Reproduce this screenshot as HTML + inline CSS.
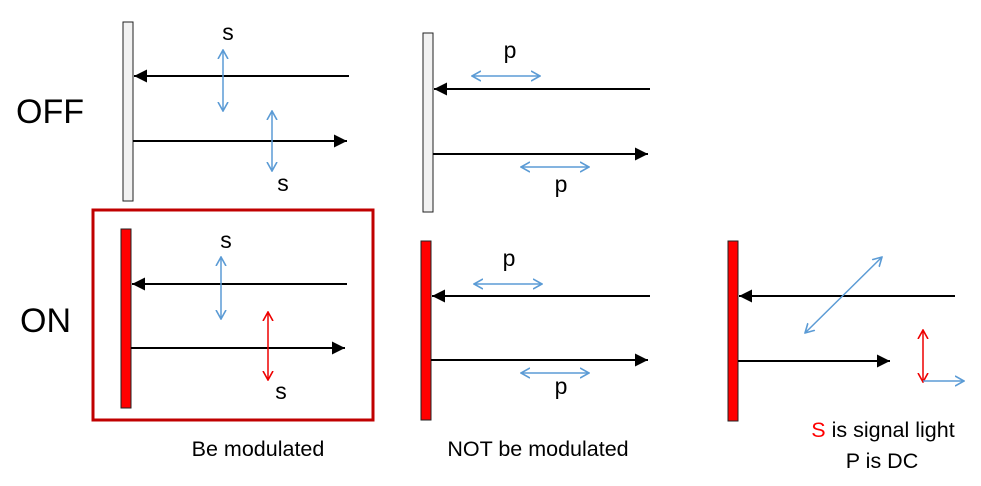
<!DOCTYPE html>
<html><head><meta charset="utf-8"><style>
html,body{margin:0;padding:0;background:#fff}
svg{display:block}
text{font-family:"Liberation Sans",sans-serif}
</style></head><body>
<svg width="981" height="486" viewBox="0 0 981 486">
<defs>
<marker id="bk" viewBox="0 0 10 10" refX="10" refY="5" markerWidth="18" markerHeight="13" markerUnits="userSpaceOnUse" orient="auto-start-reverse"><path d="M0,0 L10,5 L0,10 z" fill="#000"/></marker>
<marker id="bl" viewBox="0 0 10 10" refX="9" refY="5" markerWidth="10" markerHeight="12" markerUnits="userSpaceOnUse" orient="auto-start-reverse"><path d="M0,0 L9,5 L0,10" fill="none" stroke="#5b9bd5" stroke-width="1.6"/></marker>
<marker id="rd" viewBox="0 0 10 10" refX="9" refY="5" markerWidth="10" markerHeight="12" markerUnits="userSpaceOnUse" orient="auto-start-reverse"><path d="M0,0 L9,5 L0,10" fill="none" stroke="#e00" stroke-width="1.6"/></marker>
</defs>
<g stroke-width="2">
<rect x="123" y="22" width="10" height="179" fill="#f2f2f2" stroke="#222" stroke-width="1"/>
<line x1="349" y1="76" x2="134" y2="76" stroke="#000" marker-end="url(#bk)"/>
<line x1="133" y1="141" x2="347" y2="141" stroke="#000" marker-end="url(#bk)"/>
<line x1="223" y1="50" x2="223" y2="111" stroke="#5b9bd5" stroke-width="1.5" marker-start="url(#bl)" marker-end="url(#bl)"/>
<line x1="272" y1="111" x2="272" y2="171" stroke="#5b9bd5" stroke-width="1.5" marker-start="url(#bl)" marker-end="url(#bl)"/>
<rect x="423" y="33" width="10" height="179" fill="#f2f2f2" stroke="#222" stroke-width="1"/>
<line x1="650" y1="89" x2="434" y2="89" stroke="#000" marker-end="url(#bk)"/>
<line x1="433" y1="154" x2="648" y2="154" stroke="#000" marker-end="url(#bk)"/>
<line x1="472" y1="76" x2="540" y2="76" stroke="#5b9bd5" stroke-width="1.5" marker-start="url(#bl)" marker-end="url(#bl)"/>
<line x1="521" y1="167" x2="589" y2="167" stroke="#5b9bd5" stroke-width="1.5" marker-start="url(#bl)" marker-end="url(#bl)"/>
<rect x="93" y="210" width="280" height="210" fill="none" stroke="#c00000" stroke-width="3"/>
<rect x="121" y="229" width="10" height="179" fill="#f00" stroke="#222" stroke-width="1"/>
<line x1="347" y1="284" x2="132" y2="284" stroke="#000" marker-end="url(#bk)"/>
<line x1="131" y1="348" x2="345" y2="348" stroke="#000" marker-end="url(#bk)"/>
<line x1="221" y1="257" x2="221" y2="319" stroke="#5b9bd5" stroke-width="1.5" marker-start="url(#bl)" marker-end="url(#bl)"/>
<line x1="268" y1="312" x2="268" y2="380" stroke="#e00" stroke-width="1.5" marker-start="url(#rd)" marker-end="url(#rd)"/>
<rect x="421" y="241" width="10" height="179" fill="#f00" stroke="#222" stroke-width="1"/>
<line x1="650" y1="296" x2="432" y2="296" stroke="#000" marker-end="url(#bk)"/>
<line x1="431" y1="360" x2="648" y2="360" stroke="#000" marker-end="url(#bk)"/>
<line x1="474" y1="284" x2="542" y2="284" stroke="#5b9bd5" stroke-width="1.5" marker-start="url(#bl)" marker-end="url(#bl)"/>
<line x1="521" y1="373" x2="589" y2="373" stroke="#5b9bd5" stroke-width="1.5" marker-start="url(#bl)" marker-end="url(#bl)"/>
<rect x="728" y="241" width="10" height="180" fill="#f00" stroke="#222" stroke-width="1"/>
<line x1="955" y1="296" x2="739" y2="296" stroke="#000" marker-end="url(#bk)"/>
<line x1="738" y1="361" x2="890" y2="361" stroke="#000" marker-end="url(#bk)"/>
<line x1="805" y1="333" x2="882" y2="257" stroke="#5b9bd5" stroke-width="1.5" marker-start="url(#bl)" marker-end="url(#bl)"/>
<line x1="923" y1="330" x2="923" y2="382" stroke="#e00" stroke-width="1.5" marker-start="url(#rd)" marker-end="url(#rd)"/>
<line x1="923" y1="381" x2="964" y2="381" stroke="#5b9bd5" stroke-width="1.5" marker-end="url(#bl)"/>
</g>
<g font-size="23" fill="#000">
<text x="228" y="40" text-anchor="middle">s</text>
<text x="283" y="191" text-anchor="middle">s</text>
<text x="510" y="58" text-anchor="middle">p</text>
<text x="561" y="192" text-anchor="middle">p</text>
<text x="226" y="248" text-anchor="middle">s</text>
<text x="281" y="399" text-anchor="middle">s</text>
<text x="509" y="266" text-anchor="middle">p</text>
<text x="561" y="394" text-anchor="middle">p</text>
</g>
<text x="16" y="123" font-size="34">OFF</text>
<text x="20" y="332" font-size="34">ON</text>
<g font-size="21.5">
<text x="258" y="456" text-anchor="middle">Be modulated</text>
<text x="538" y="456" text-anchor="middle">NOT be modulated</text>
<text x="883" y="437" text-anchor="middle"><tspan fill="#f00">S</tspan> is signal light</text>
<text x="882" y="468" text-anchor="middle">P is DC</text>
</g>
</svg>
</body></html>
